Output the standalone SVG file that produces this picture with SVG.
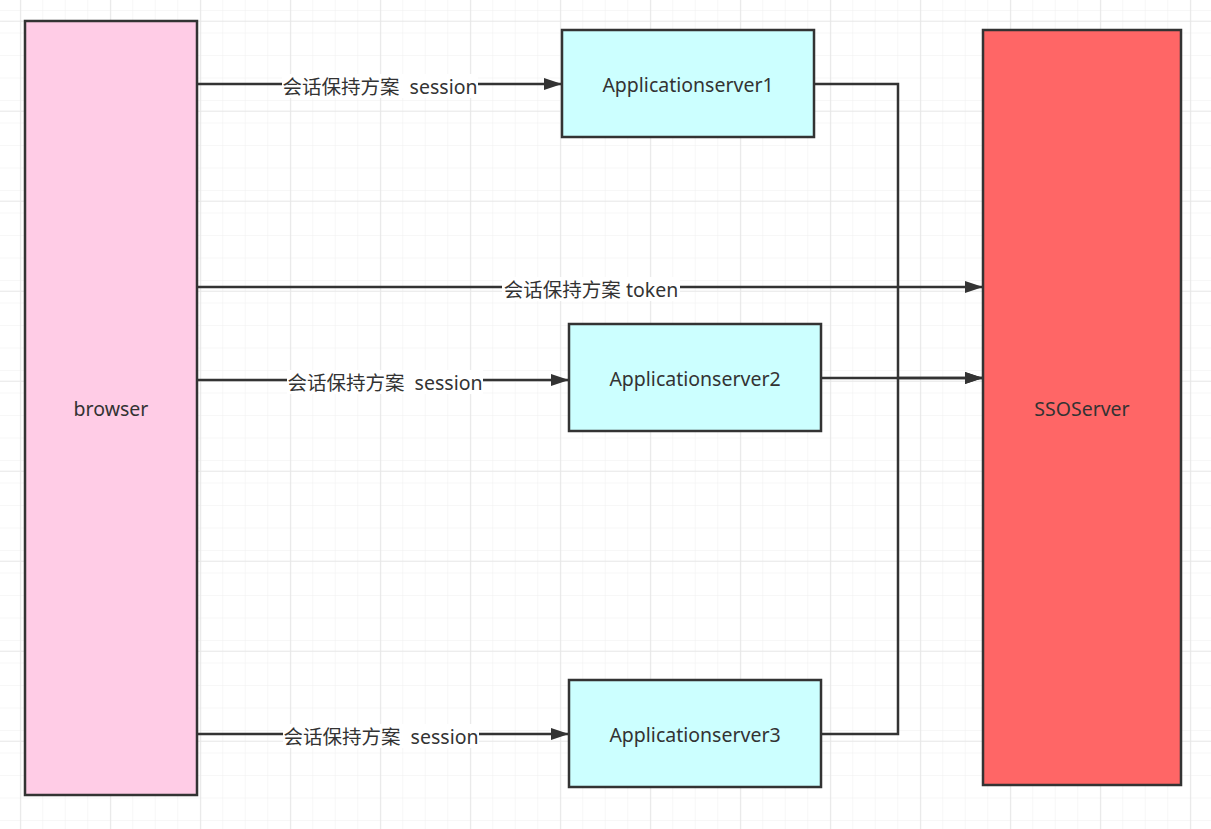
<svg xmlns="http://www.w3.org/2000/svg" width="1211" height="829" viewBox="0 0 1211 829">
<defs>
<pattern id="minor" x="-1.8" y="-11.5" width="22.5" height="22.5" patternUnits="userSpaceOnUse">
<path d="M22.5 0V22.5M0 22.5H22.5" fill="none" stroke="#f0f0f0" stroke-width="1"/>
</pattern>
<pattern id="major" x="-1.8" y="-1.3" width="90" height="90" patternUnits="userSpaceOnUse">
<path d="M22.5 0V90M0 22.5H90" fill="none" stroke="#e6e6e6" stroke-width="1"/>
</pattern>
<marker id="arr" viewBox="0 0 18 12" refX="18" refY="6" markerWidth="18" markerHeight="12" markerUnits="userSpaceOnUse" orient="auto">
<path d="M0 0L18 6L0 12Z" fill="#333"/>
</marker>
</defs>
<style>
.box{stroke:#333;stroke-width:2.5}
.t{font-family:"Noto Sans","Noto Sans CJK SC",sans-serif;font-size:19.5px;fill:#333;text-anchor:middle;dominant-baseline:central;white-space:pre}
.edge{fill:none;stroke:#333;stroke-width:2.5}
.lbl{fill:#fff}
</style>
<rect width="1211" height="829" fill="#fff"/>
<rect width="1211" height="829" fill="url(#minor)"/>
<rect width="1211" height="829" fill="url(#major)"/>
<g id="connectors">
<path class="edge" d="M197 84H562" marker-end="url(#arr)"/>
<path class="edge" d="M197 287H983" marker-end="url(#arr)"/>
<path class="edge" d="M197 380H569" marker-end="url(#arr)"/>
<path class="edge" d="M197 734H569" marker-end="url(#arr)"/>
<path class="edge" d="M814 84H898V378H983" marker-end="url(#arr)"/>
<path class="edge" d="M821 378H983" marker-end="url(#arr)"/>
<path class="edge" d="M821 734H898V378"/>
<rect class="lbl" x="282" y="74" width="196" height="24"/>
<text class="t" x="380" y="86" xml:space="preserve">会话保持方案  session</text>
<rect class="lbl" x="502" y="277" width="178" height="24"/>
<text class="t" x="591" y="289">会话保持方案 token</text>
<rect class="lbl" x="287" y="370" width="196" height="24"/>
<text class="t" x="385" y="382" xml:space="preserve">会话保持方案  session</text>
<rect class="lbl" x="283" y="724" width="196" height="24"/>
<text class="t" x="381" y="736" xml:space="preserve">会话保持方案  session</text>
</g>
<g id="browser">
<rect class="box" x="25" y="21" width="172" height="774" fill="#FFCCE6"/>
<text class="t" x="111" y="408">browser</text>
</g>
<g id="app1">
<rect class="box" x="562" y="30" width="252" height="107" fill="#CCFFFF"/>
<text class="t" x="688" y="84">Applicationserver1</text>
</g>
<g id="app2">
<rect class="box" x="569" y="324" width="252" height="107" fill="#CCFFFF"/>
<text class="t" x="695" y="378">Applicationserver2</text>
</g>
<g id="app3">
<rect class="box" x="569" y="680" width="252" height="107" fill="#CCFFFF"/>
<text class="t" x="695" y="734">Applicationserver3</text>
</g>
<g id="sso">
<rect class="box" x="983" y="30" width="198" height="755" fill="#FF6666"/>
<text class="t" x="1082" y="408">SSOServer</text>
</g>
</svg>
